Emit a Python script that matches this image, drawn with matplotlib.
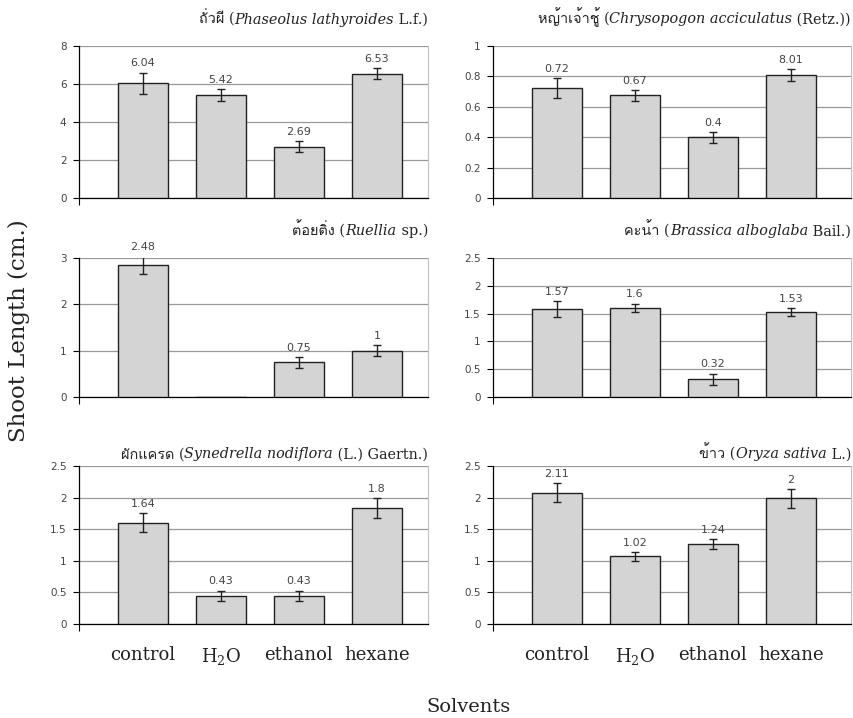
import matplotlib
matplotlib.use('Agg')
from matplotlib import pyplot, font_manager
from matplotlib.ft2font import FT2Font
from matplotlib.offsetbox import TextArea, HPacker, AnchoredOffsetbox
import matplotlib.ticker as ticker

# ищем шрифт с тайскими символами
thai = []
for f in font_manager.fontManager.ttflist:
    try:
        if 0x0E01 in FT2Font(f.fname).get_charmap():
            thai.append(f.name)
    except Exception:
        pass
serif = ['DejaVu Serif'] + thai[:1]
pyplot.rcParams['mathtext.fontset'] = 'dejavuserif'

solvents = ['control', 'H$_2$O', 'ethanol', 'hexane']

thai_names = ['ถั่วผี', 'หญ้าเจ้าชู้', 'ต้อยติ่ง', 'คะน้า', 'ผักแครด', 'ข้าว']
latin_names = ['Phaseolus lathyroides', 'Chrysopogon acciculatus', 'Ruellia',
               'Brassica alboglaba', 'Synedrella nodiflora', 'Oryza sativa']
authors = ['L.f.)', '(Retz.))', 'sp.)', 'Bail.)', '(L.) Gaertn.)', 'L.)']

heights = [[6.05, 5.43, 2.70, 6.55],
           [0.725, 0.675, 0.40, 0.81],
           [2.85, 0.0, 0.75, 1.00],
           [1.58, 1.60, 0.32, 1.53],
           [1.60, 0.45, 0.45, 1.83],
           [2.08, 1.07, 1.26, 1.99]]
errors = [[0.55, 0.30, 0.28, 0.27],
          [0.065, 0.035, 0.035, 0.04],
          [0.20, 0.0, 0.12, 0.12],
          [0.14, 0.08, 0.10, 0.07],
          [0.15, 0.08, 0.08, 0.16],
          [0.15, 0.07, 0.08, 0.15]]
labels = [['6.04', '5.42', '2.69', '6.53'],
          ['0.72', '0.67', '0.4', '8.01'],
          ['2.48', '', '0.75', '1'],
          ['1.57', '1.6', '0.32', '1.53'],
          ['1.64', '0.43', '0.43', '1.8'],
          ['2.11', '1.02', '1.24', '2']]
ymax = [8, 1, 3, 2.5, 2.5, 2.5]
ystep = [2, 0.2, 1, 0.5, 0.5, 0.5]

fig = pyplot.figure(figsize=(8.54, 7.18), dpi=100)

W, H = 854, 718
cols = [(79, 428), (493, 851)]
rows = [(46, 198), (258, 397), (466, 624)]

for i in range(6):
    r, c = divmod(i, 2)
    x0, x1 = cols[c]
    y0, y1 = rows[r]
    ax = fig.add_axes([x0 / W, 1 - y1 / H, (x1 - x0) / W, (y1 - y0) / H])
    pos = [0, 1, 2, 3]
    hs = heights[i]
    ax.bar(pos, hs, width=0.65, color='#d4d4d4', edgecolor='#222222',
           linewidth=1, zorder=3)
    ex = [p for p, h in zip(pos, hs) if h > 0]
    ey = [h for h in hs if h > 0]
    ee = [e for e, h in zip(errors[i], hs) if h > 0]
    ax.errorbar(ex, ey, yerr=ee, fmt='none', ecolor='#222222', elinewidth=1,
                capsize=3, capthick=1, zorder=4)
    for p, h, e, t in zip(pos, hs, errors[i], labels[i]):
        if t:
            ax.annotate(t, (p, h + e), xytext=(0, 3), textcoords='offset points',
                        ha='center', va='bottom', fontsize=8, color='#444444',
                        annotation_clip=False)

    ax.set_ylim(0, ymax[i])
    ax.set_xlim(-0.82, (x1 - x0 - 64) / 78)
    ax.yaxis.set_major_locator(ticker.MultipleLocator(ystep[i]))
    ax.yaxis.set_major_formatter(ticker.FuncFormatter(lambda v, p: '%g' % v))
    ax.grid(axis='y', color='#9a9a9a', linewidth=0.9, zorder=0)
    ax.set_axisbelow(True)
    ax.tick_params(axis='y', labelsize=7.5, labelcolor='#444444', length=4,
                   width=0.8, pad=5)
    ax.spines['top'].set_visible(False)
    ax.spines['right'].set_color('#c0c0c0')
    ax.spines['left'].set_linewidth(0.9)
    ax.spines['bottom'].set_linewidth(0.9)

    if r == 2:
        ax.set_xticks(pos)
        ax.set_xticklabels(solvents, family=serif, fontsize=13, color='#222222')
        ax.tick_params(axis='x', length=0, pad=16)
    else:
        ax.set_xticks([])
    ax.set_xticks([-0.82], minor=True)
    ax.tick_params(axis='x', which='minor', length=5, width=0.8)

    # название: тайское имя + латинское курсивом
    tp = dict(family=serif, fontsize=10.4, color='#222222')
    parts = [TextArea(thai_names[i] + ' (', textprops=tp),
             TextArea(latin_names[i], textprops=dict(tp, style='italic')),
             TextArea(' ' + authors[i], textprops=tp)]
    box = HPacker(children=parts, align='baseline', pad=0, sep=0)
    ab = AnchoredOffsetbox(loc='lower right', child=box, pad=0, frameon=False,
                           bbox_to_anchor=(1.0, 1.0 + (28 if r < 2 else 14) / (y1 - y0) - 0.06),
                           bbox_transform=ax.transAxes, borderpad=0)
    ax.add_artist(ab)

fig.text(19 / W, 1 - 331 / H, 'Shoot Length (cm.)', rotation=90, ha='center',
         va='center', family='DejaVu Serif', fontsize=16.5, color='#222222')
fig.text(468 / W, 1 - 707 / H, 'Solvents', ha='center', va='center',
         family='DejaVu Serif', fontsize=14, color='#222222')

fig.savefig('out.png')
